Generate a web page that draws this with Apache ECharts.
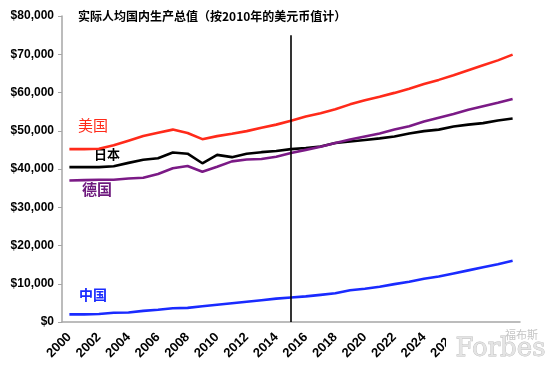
<!DOCTYPE html>
<html><head><meta charset="utf-8">
<script src="https://cdn.jsdelivr.net/npm/echarts@6/dist/echarts.min.js"></script>
<style>html,body{margin:0;padding:0;background:#fff}#c{width:559px;height:379px}</style>
</head><body><div id="c"></div>
<script>
const years = [];
for (let y = 2000; y <= 2030; y++) years.push(String(y));
const usa = [45200,45200,45300,46200,47400,48600,49500,50300,49400,47800,48600,49200,49900,50800,51600,52600,53700,54600,55600,56900,58000,58900,59900,61000,62200,63300,64500,65800,67100,68400,69900];
const japan = [40500,40500,40500,40700,41600,42400,42800,44300,44000,41500,43700,43100,44000,44400,44700,45200,45500,45900,46800,47200,47600,48000,48500,49300,49900,50300,51100,51600,52000,52700,53200];
const germany = [37000,37100,37200,37200,37500,37700,38700,40200,40800,39300,40600,42000,42500,42600,43200,44200,45000,45800,46800,47700,48500,49300,50300,51200,52400,53400,54400,55500,56400,57300,58300];
const china = [2000,2000,2100,2400,2500,2900,3200,3600,3700,4100,4500,4900,5300,5700,6100,6400,6700,7100,7500,8300,8700,9200,9900,10500,11300,11900,12700,13500,14300,15100,16000];
const yTicks = [0,10000,20000,30000,40000,50000,60000,70000,80000];
const titleText = '实际人均国内生产总值（按2010年的美元币值计）';

const chart = echarts.init(document.getElementById('c'));
const mk = (name, data, color) => ({name, type:'line', data, symbol:'none', smooth:false,
  lineStyle:{width:2.6, color}, itemStyle:{color}});
const s0 = mk('美国', usa, '#ff2a1a');
s0.markLine = {silent:true, symbol:['none','none'], label:{show:false}, animation:false,
  lineStyle:{color:'#000', width:1.6, type:'solid'},
  data:[[{xAxis:'2015', yAxis:75000},{xAxis:'2015', yAxis:0}]]};
chart.setOption({
  animation:false,
  grid:{left:62, right:39, top:16, bottom:57},
  xAxis:{type:'category', data:years, boundaryGap:true,
    axisLine:{lineStyle:{color:'#a6a6a6', width:1.5}},
    axisTick:{interval:0, length:4, lineStyle:{color:'#a6a6a6'}},
    axisLabel:{interval:1, rotate:45, color:'#000', fontWeight:'bold', fontSize:13, fontFamily:'Liberation Sans, Arial', margin:13}},
  yAxis:{type:'value', min:0, max:80000, interval:10000,
    axisLine:{show:true, lineStyle:{color:'#a6a6a6', width:1.5}},
    axisTick:{show:true, length:4, lineStyle:{color:'#a6a6a6'}},
    splitLine:{show:false},
    axisLabel:{color:'#000', fontWeight:'bold', fontSize:12, fontFamily:'Liberation Sans, Arial', margin:8,
      formatter:v => yTicks.includes(v) ? '$' + v.toLocaleString('en-US') : ''}},
  series:[s0, mk('日本', japan, '#000'), mk('德国', germany, '#7b1a86'), mk('中国', china, '#1a2bff')],
  graphic:[
    {type:'text', left:78, top:10, style:{text:titleText, fill:'#000', font:'bold 12px "Noto Sans CJK SC"'}},
    {type:'text', left:78, top:118, style:{text:'美国', fill:'#ff2a1a', font:'15px "Noto Sans CJK SC"'}},
    {type:'text', left:94, top:148, style:{text:'日本', fill:'#000', font:'bold 13px "Noto Sans CJK SC"'}},
    {type:'text', left:82, top:182, style:{text:'德国', fill:'#6e1a7e', font:'bold 15px "Noto Sans CJK SC"'}},
    {type:'text', left:79, top:288, style:{text:'中国', fill:'#1a2bff', font:'bold 14px "Noto Sans CJK SC"'}},
    {type:'rect', left:446, top:325, shape:{width:113, height:54}, style:{fill:'#fff'}, z:100},
    {type:'text', left:505, top:329, z:101, style:{text:'福布斯', fill:'#c4c4c4', font:'11px "Noto Sans CJK SC"'}},
    {type:'text', left:455, top:336, z:101, style:{text:'Forbes', fill:'#e4e4e4', stroke:'#bdbdbd', lineWidth:0.8, font:'26px "DejaVu Serif"'}}
  ]
});
</script></body></html>
